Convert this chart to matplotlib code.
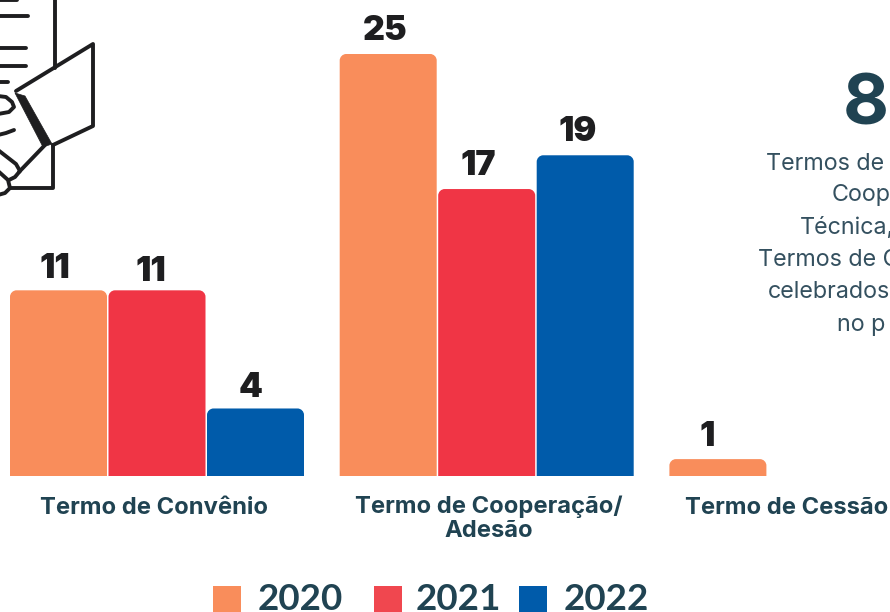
import matplotlib
matplotlib.use("Agg")
import matplotlib.pyplot as plt
from matplotlib.path import Path
from matplotlib.patches import PathPatch, Polygon, Rectangle
import numpy as np

categories = ["Termo de Convênio", "Termo de Cooperação/\nAdesão", "Termo de Cessão"]
years = ["2020", "2021", "2022"]
values_2020 = [11, 25, 1]
values_2021 = [11, 17, 0]
values_2022 = [4, 19, 0]
side_number = "8"
side_lines = ["Termos de", "Coop", "Técnica,", "Termos de C", "celebrados", "no p"]

ORANGE, RED, BLUE = "#F98D5B", "#F03545", "#005BAA"
LEG_RED = "#F0474F"
DARK = "#204352"
MID = "#34505F"
INK = "#1E1E20"
W, H = 890, 612
fig = plt.figure(figsize=(W/100, H/100), dpi=100, facecolor="white")

ax = fig.add_axes([0, 0, 1, 1])
PX_X = 329.7
PX_Y = 16.88
X0, Y0 = 157.0, 476.0
ax.set_xlim(-X0/PX_X, (W-X0)/PX_X)
ax.set_ylim(-(H-Y0)/PX_Y, Y0/PX_Y)
ax.axis("off")

pitch = 98.5/PX_X
width = 97/PX_X
r = 6.5
rx, ry = r/PX_X, r/PX_Y
k = 0.45

def rounded(x, w, h):
    l, rt = x-w/2, x+w/2
    verts = [(l,0),(l,h-ry),(l,h-ry*k),(l+rx*k,h),(l+rx,h),(rt-rx,h),(rt-rx*k,h),(rt,h-ry*k),(rt,h-ry),(rt,0),(l,0)]
    codes = [Path.MOVETO,Path.LINETO,Path.CURVE4,Path.CURVE4,Path.CURVE4,Path.LINETO,Path.CURVE4,Path.CURVE4,Path.CURVE4,Path.LINETO,Path.CLOSEPOLY]
    return Path(verts, codes)

nudges = {(0,0):(-3.5,5),(0,1):(-6.5,8),(0,2):(-5,6),(1,0):(-3,3),(1,1):(-8,3),(1,2):(-8,3),(2,0):(-11,4)}
x = np.arange(len(categories))
for s, (vals, col) in enumerate(zip([values_2020, values_2021, values_2022], [ORANGE, RED, BLUE])):
    for i, v in enumerate(vals):
        if v == 0:
            continue
        xc = x[i] + (s-1)*pitch
        ax.add_patch(PathPatch(rounded(xc, width, v), fc=col, ec="none"))
        dx, dy = nudges.get((i, s), (0, 0))
        ax.annotate(str(v), (xc, v), xytext=(dx*0.72, (26-dy)*0.72), textcoords="offset points",
                    ha="center", va="center", fontsize=24.5, fontweight="black", family="Inter", color=INK)

# Overlay in pixel coordinates for furniture
ov = fig.add_axes([0, 0, 1, 1], facecolor="none")
ov.set_xlim(0, W); ov.set_ylim(H, 0); ov.axis("off")

cat_pos = [(154, 507.5), (488.5, 518.5), (786.5, 507.5)]
for (cx, cy), c in zip(cat_pos, categories):
    ov.text(cx, cy, c, ha="center", va="center", fontsize=17.1, fontweight="bold", family="Inter",
            color=DARK, linespacing=1.12)

ov.text(865.5, 106, side_number, ha="center", va="center", fontsize=51, fontweight="bold", family="Inter", color=DARK)
side_x = [766, 832, 800, 758, 768, 837]
side_y = [163.5, 195.5, 227.5, 259.5, 292.5, 324.5]
for tx, ty, t in zip(side_x, side_y, side_lines):
    ov.text(tx, ty, t, ha="left", va="center", fontsize=16.8, family="Inter", color=MID)

# Icon
lw = 2.8
def ln(pts):
    xs, ys = zip(*pts)
    ov.plot(xs, ys, color=INK, lw=lw, solid_capstyle="round", solid_joinstyle="round")
ln([(54.5,-2),(54.5,68)])
for yy, xe in [(0,17),(16,28),(48,26),(66,26),(82,8)]:
    ln([(-2,yy),(xe,yy)])
ln([(16,91),(93,44),(93,126),(53,145)])
ln([(53,145),(53,188),(10,188)])
ln([(45,145),(19,172)])
ov.add_patch(Polygon([(15,93),(25,96),(52,144),(43,147)], fc=INK, ec=INK, lw=0.5))
ln([(-2,96),(6,97),(12,102),(14,107),(9,112),(-2,114)])
ln([(-2,135),(6,133),(14,130)])
ln([(-2,150),(16,164),(20,171),(15,177),(9,180)])
ln([(-2,171),(8,180),(10,188),(5,193),(-2,195)])

# Legend
leg_sq_x = [213, 374, 519]
leg_txt_x = [300.5, 458, 606.5]
for sx, tx, c, y_ in zip(leg_sq_x, leg_txt_x, [ORANGE, LEG_RED, BLUE], years):
    ov.add_patch(Rectangle((sx, 586), 28, 26, fc=c, ec="none"))
    ov.text(tx, 610.5, y_, ha="center", va="baseline", fontsize=26.5, fontweight="bold", family="Lato", color=DARK)

fig.savefig("out.png", dpi=100)
